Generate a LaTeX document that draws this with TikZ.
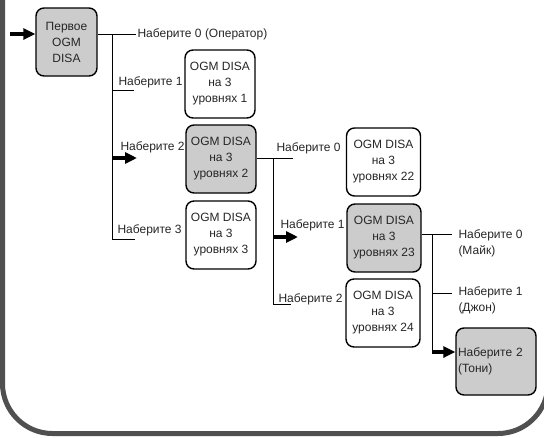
\documentclass[tikz,border=0pt]{standalone}
\usepackage{fontspec}
\setmainfont{Liberation Sans}
\usetikzlibrary{arrows.meta,positioning}

\definecolor{boxgray}{HTML}{CCCCCC}
\definecolor{framegray}{HTML}{505050}

\begin{document}
\begin{tikzpicture}[ x=1pt, y=-1pt, line width=1pt,
 menu/.style={ draw, rounded corners=8pt, line width=1.4pt, minimum width=70pt, minimum height=68pt, align=center, inner sep=2pt, text=black!85, font=\fontsize{12}{16}\selectfont },
 active/.style={ menu, fill=boxgray },
 dial/.style={ inner sep=1pt, text=black!85, align=left, font=\fontsize{12}{16}\selectfont },
 go/.style={ line width=3.5pt, -{Triangle[length=12pt,width=11pt]} } ]
\useasboundingbox (0,0) rectangle (544,437);
\draw [ line width=5pt, framegray, rounded corners=50pt ] (2.5,-20) -- (2.5,433.5) -- (548,433.5) -- (548,-20);

% menus
\node [ active, minimum width=61pt ] (first) at (66.5,42) {Первое\\OGM\\DISA};
\node [ menu ] (lvl1) at (220,84) {OGM DISA\\на 3\\уровнях 1};
\node [ active ] (lvl2) at (221,159) {OGM DISA\\на 3\\уровнях 2};
\node [ menu ] (lvl3) at (221,235) {OGM DISA\\на 3\\уровнях 3};
\node [ menu, minimum width=74pt ] (lvl22) at (383.5,162) {OGM DISA\\на 3\\уровнях 22};
\node [ active, minimum width=74pt ] (lvl23) at (384,238) {OGM DISA\\на 3\\уровнях 23};
\node [ menu, minimum width=74pt ] (lvl24) at (383,313) {OGM DISA\\на 3\\уровнях 24};
\node [ active, text width=76pt, minimum height=67pt, align=left ] (toni) at (496,361.5) {Наберите 2\\(Тони)};

% dial labels
\node [ dial, anchor=west ] (op) at (136,34) {Наберите 0 (Оператор)};
\node [ dial, anchor=west ] (n1) at (117,82) {Наберите 1};
\node [ dial, anchor=west ] (n2) at (119,147) {Наберите 2};
\node [ dial, anchor=west ] (n3) at (116,230) {Наберите 3};
\node [ dial, anchor=west ] (n20) at (275,148) {Наберите 0};
\node [ dial, anchor=west ] (n21) at (279,225) {Наберите 1};
\node [ dial, anchor=west ] (n22) at (277,299) {Наберите 2};
\node [ dial, anchor=west ] (n30) at (457,243) {Наберите 0\\(Майк)};
\node [ dial, anchor=west ] (n31) at (457,300.5) {Наберите 1\\(Джон)};

% branch points
\coordinate (start) at (10,34);
\coordinate (t1) at (112,34);
\coordinate (t1end) at (112,239);
\coordinate (b1) at (134,90);
\coordinate (a2) at (137,158);
\coordinate (b3) at (135,239);
\coordinate (e2) at (293,158);
\coordinate (t2) at (273,158);
\coordinate (t2end) at (273,304);
\coordinate (a21) at (298,237);
\coordinate (b22) at (291,304);
\coordinate (e3) at (452,234);
\coordinate (t3) at (432,234);
\coordinate (t3end) at (432,352);
\coordinate (b31) at (452,293);

\draw [ go ] (start) -- (first.west |- start);
\draw (first.east |- start) -- (op.west);
\draw (t1) -- (t1end) -- (b3);
\draw (t1 |- b1) -- (b1);
\draw [ go ] (t1 |- a2) -- (a2);

\draw (lvl2.east |- e2) -- (e2);
\draw (t2) -- (t2end) -- (b22);
\draw [ go ] (t2 |- a21) -- (a21);

\draw (lvl23.east |- e3) -- (e3);
\draw (t3) -- (t3end);
\draw (t3 |- b31) -- (b31);
\draw [ go ] (t3end) -- (toni.west |- t3end);
\end{tikzpicture}
\end{document}
